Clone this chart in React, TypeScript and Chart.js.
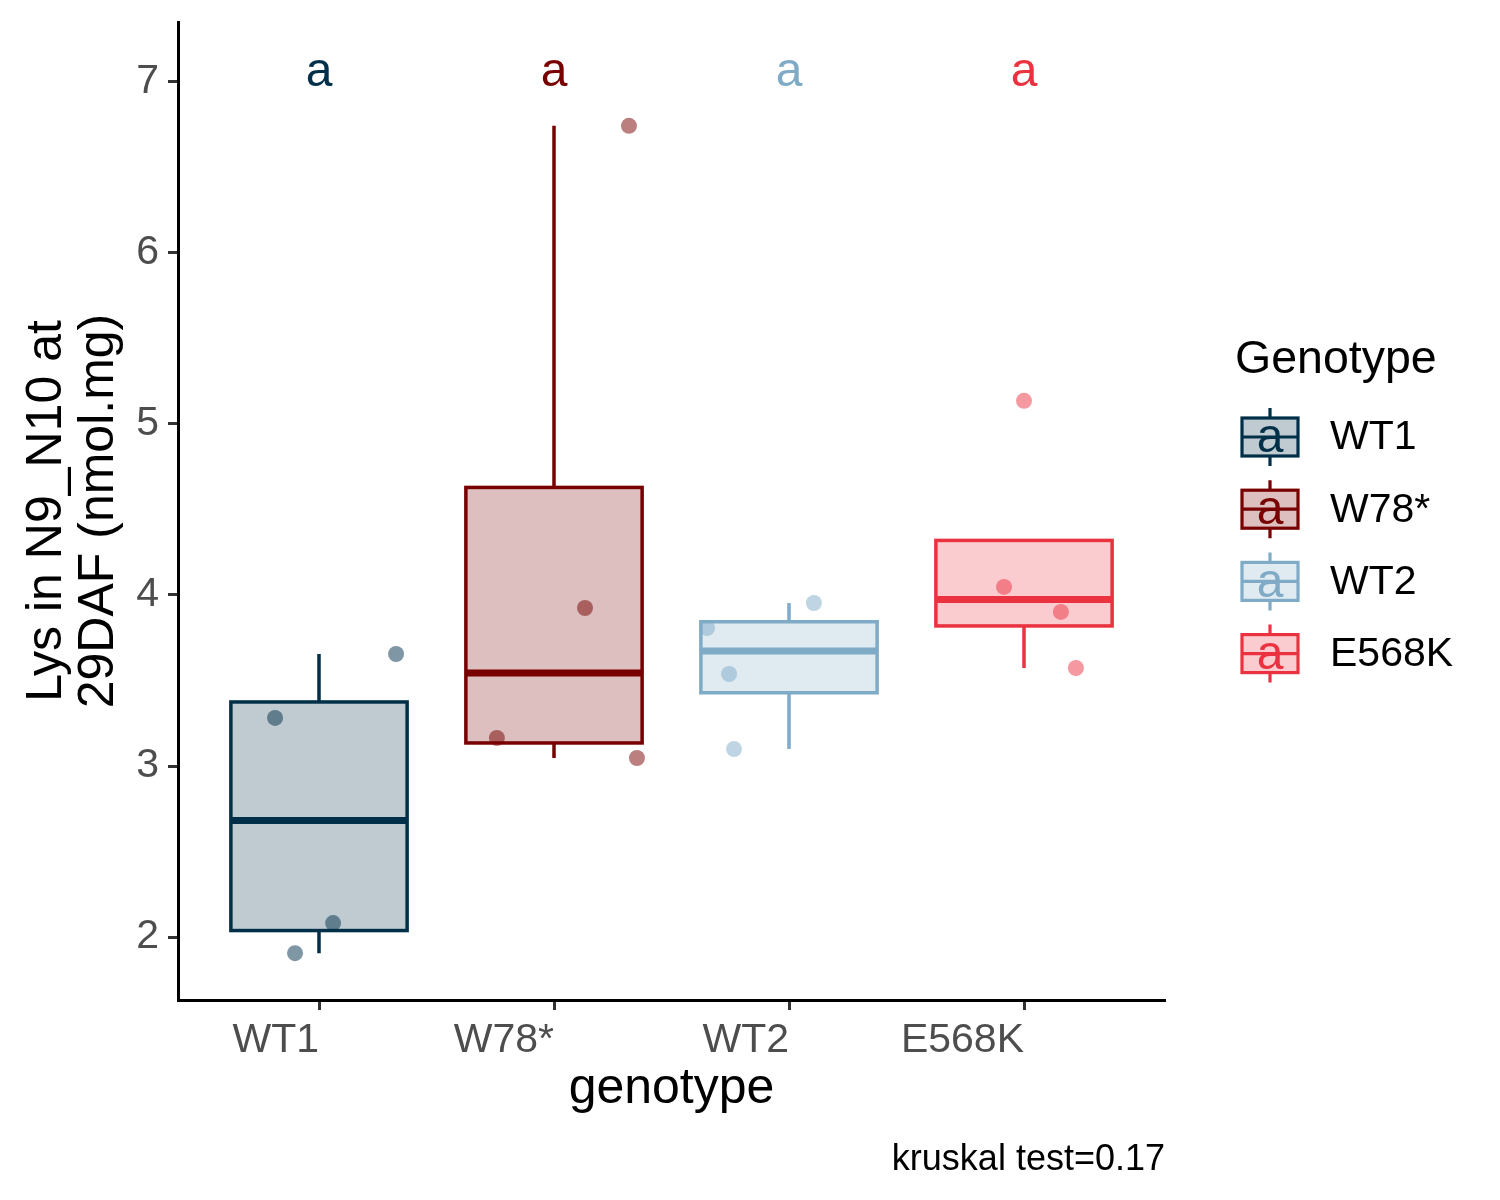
import React, { useEffect, useRef } from "react";
import { Chart, registerables } from "chart.js";

Chart.register(...registerables);

// ---- data ----
const genotypes = ["WT1", "W78*", "WT2", "E568K"];
const groupColors = ["#003049", "#780000", "#7fabc7", "#eb3240"];
const wt1Values = [3.281, 3.655, 2.082, 1.906];
const w78Values = [6.743, 3.924, 3.164, 3.047];
const wt2Values = [3.953, 3.807, 3.538, 3.099];
const e568kValues = [5.135, 4.047, 3.901, 3.573];
const wt1Jitter = [-0.187, 0.328, 0.06, -0.102];
const w78Jitter = [0.319, 0.132, -0.243, 0.353];
const wt2Jitter = [0.106, -0.349, -0.255, -0.234];
const e568kJitter = [0.0, -0.085, 0.157, 0.221];
const groupLetters = ["a", "a", "a", "a"];
const yTicks = [2, 3, 4, 5, 6, 7];
const yAxisTitle = ["Lys in N9_N10 at", "29DAF (nmol.mg)"];
const xAxisTitle = "genotype";
const legendTitle = "Genotype";
const captionText = "kruskal test=0.17";

const allValues = [wt1Values, w78Values, wt2Values, e568kValues];
const allJitter = [wt1Jitter, w78Jitter, wt2Jitter, e568kJitter];

const LETTER_Y = 7.055;
const FONT = "'Liberation Sans', Arial, sans-serif";

function rgba(hex: string, a: number) {
  const n = parseInt(hex.slice(1), 16);
  return `rgba(${(n >> 16) & 255},${(n >> 8) & 255},${n & 255},${a})`;
}

function quantile(sorted: number[], p: number) {
  const h = (sorted.length - 1) * p;
  const lo = Math.floor(h);
  const hi = Math.ceil(h);
  return sorted[lo] + (h - lo) * (sorted[hi] - sorted[lo]);
}

function boxStats(values: number[]) {
  const s = [...values].sort((a, b) => a - b);
  const q1 = quantile(s, 0.25);
  const med = quantile(s, 0.5);
  const q3 = quantile(s, 0.75);
  const iqr = q3 - q1;
  const inside = s.filter((v) => v >= q1 - 1.5 * iqr && v <= q3 + 1.5 * iqr);
  const lo = Math.min(q1, ...inside);
  const hi = Math.max(q3, ...inside);
  return { q1, med, q3, lo, hi };
}

const boxPlugin = {
  id: "ggBoxes",
  beforeDatasetsDraw(chart: any) {
    const { ctx } = chart;
    const x = chart.scales.x;
    const y = chart.scales.y;
    ctx.save();
    allValues.forEach((vals, i) => {
      const st = boxStats(vals);
      const col = groupColors[i];
      const cx = x.getPixelForValue(i + 1);
      const l = x.getPixelForValue(i + 1 - 0.375);
      const r = x.getPixelForValue(i + 1 + 0.375);
      const yq1 = y.getPixelForValue(st.q1);
      const yq3 = y.getPixelForValue(st.q3);
      const ymed = y.getPixelForValue(st.med);
      ctx.strokeStyle = col;
      ctx.lineWidth = 3.5;
      ctx.lineCap = "butt";
      ctx.beginPath();
      ctx.moveTo(cx, yq3);
      ctx.lineTo(cx, y.getPixelForValue(st.hi));
      ctx.moveTo(cx, yq1);
      ctx.lineTo(cx, y.getPixelForValue(st.lo));
      ctx.stroke();
      ctx.fillStyle = rgba(col, 0.25);
      ctx.fillRect(l, yq3, r - l, yq1 - yq3);
      ctx.strokeRect(l, yq3, r - l, yq1 - yq3);
      ctx.lineWidth = 7;
      ctx.beginPath();
      ctx.moveTo(l, ymed);
      ctx.lineTo(r, ymed);
      ctx.stroke();
    });
    ctx.restore();
  },
  afterDraw(chart: any) {
    const { ctx } = chart;
    const x = chart.scales.x;
    const y = chart.scales.y;
    ctx.save();
    // group letters
    ctx.font = `48px ${FONT}`;
    ctx.textAlign = "center";
    ctx.textBaseline = "middle";
    groupLetters.forEach((t, i) => {
      ctx.fillStyle = groupColors[i];
      ctx.fillText(t, x.getPixelForValue(i + 1), y.getPixelForValue(LETTER_Y));
    });
    // y axis title
    ctx.fillStyle = "#000";
    ctx.font = `50px ${FONT}`;
    ctx.textBaseline = "alphabetic";
    ctx.textAlign = "center";
    const cy = (chart.chartArea.top + chart.chartArea.bottom) / 2;
    [61, 113].forEach((bx, k) => {
      ctx.save();
      ctx.translate(bx, cy);
      ctx.rotate(-Math.PI / 2);
      ctx.fillText(yAxisTitle[k], 0, 0);
      ctx.restore();
    });
    // x axis title
    ctx.fillText(xAxisTitle, (chart.chartArea.left + chart.chartArea.right) / 2, 1103);
    // caption
    ctx.font = `36px ${FONT}`;
    ctx.textAlign = "right";
    ctx.fillText(captionText, chart.chartArea.right, 1170);
    // legend
    ctx.textAlign = "left";
    ctx.font = `46.5px ${FONT}`;
    ctx.fillText(legendTitle, 1235, 373);
    genotypes.forEach((g, i) => {
      const c = 437 + 72.2 * i;
      const col = groupColors[i];
      const kl = 1242;
      const kr = 1298;
      const kc = (kl + kr) / 2;
      ctx.strokeStyle = col;
      ctx.lineWidth = 3.2;
      ctx.beginPath();
      ctx.moveTo(kc, c - 29);
      ctx.lineTo(kc, c - 19);
      ctx.moveTo(kc, c + 19);
      ctx.lineTo(kc, c + 29);
      ctx.stroke();
      ctx.fillStyle = rgba(col, 0.25);
      ctx.fillRect(kl, c - 19, kr - kl, 38);
      ctx.strokeRect(kl, c - 19, kr - kl, 38);
      ctx.beginPath();
      ctx.moveTo(kl, c);
      ctx.lineTo(kr, c);
      ctx.stroke();
      ctx.fillStyle = col;
      ctx.font = `48px ${FONT}`;
      ctx.textAlign = "center";
      ctx.textBaseline = "middle";
      ctx.fillText(groupLetters[i], kc, c + 2);
      ctx.fillStyle = "#000";
      ctx.font = `41px ${FONT}`;
      ctx.textAlign = "left";
      ctx.fillText(g, 1330, c + 1);
      ctx.textBaseline = "alphabetic";
    });
    ctx.restore();
  },
};

function noPad(s: any) {
  s.paddingTop = 0;
  s.paddingBottom = 0;
  s.paddingLeft = 0;
  s.paddingRight = 0;
}

export default function App() {
  const ref = useRef<HTMLCanvasElement | null>(null);
  useEffect(() => {
    if (!ref.current) return;
    Chart.defaults.font.family = FONT;
    const datasets = allValues.map((vals, i) => ({
      type: "scatter" as const,
      label: genotypes[i],
      data: vals.map((v, j) => ({ x: i + 1 + allJitter[i][j], y: v })),
      backgroundColor: rgba(groupColors[i], 0.5),
      borderWidth: 0,
      pointRadius: 8,
      pointHoverRadius: 8,
    }));
    const chart = new Chart(ref.current, {
      type: "scatter",
      data: { datasets },
      plugins: [boxPlugin],
      options: {
        animation: false,
        responsive: false,
        devicePixelRatio: 1,
        events: [],
        layout: { padding: { left: 0, top: 22, right: 335, bottom: 0 } },
        plugins: { legend: { display: false }, tooltip: { enabled: false } },
        scales: {
          x: {
            type: "linear",
            min: 0.4,
            max: 4.6,
            afterBuildTicks: (s: any) => {
              s.ticks = genotypes.map((_, i) => ({ value: i + 1 }));
            },
            afterFit: (s: any) => {
              s.height = 200;
              noPad(s);
            },
            ticks: {
              callback: (v: any) => genotypes[Math.round(Number(v)) - 1] ?? "",
              color: "#4d4d4d",
              font: { size: 41, family: FONT },
              align: "end",
              padding: 6,
              maxRotation: 0,
              autoSkip: false,
            },
            grid: {
              display: true,
              drawOnChartArea: false,
              drawTicks: true,
              tickLength: 10,
              tickColor: "#333333",
              tickWidth: 3,
            },
            border: { display: true, color: "#000000", width: 3 },
          },
          y: {
            type: "linear",
            min: 1.632,
            max: 7.35,
            afterBuildTicks: (s: any) => {
              s.ticks = yTicks.map((v) => ({ value: v }));
            },
            afterFit: (s: any) => {
              s.width = 178;
              noPad(s);
            },
            ticks: {
              color: "#4d4d4d",
              font: { size: 41, family: FONT },
              padding: 9,
              autoSkip: false,
            },
            grid: {
              display: true,
              drawOnChartArea: false,
              drawTicks: true,
              tickLength: 10,
              tickColor: "#333333",
              tickWidth: 3,
            },
            border: { display: true, color: "#000000", width: 3 },
          },
        },
      },
    } as any);
    return () => chart.destroy();
  }, []);
  return (
    <div style={{ position: "absolute", left: 0, top: 0, width: 1500, height: 1200, background: "#fff" }}>
      <canvas ref={ref} width={1500} height={1200} style={{ width: 1500, height: 1200, display: "block" }} />
    </div>
  );
}
